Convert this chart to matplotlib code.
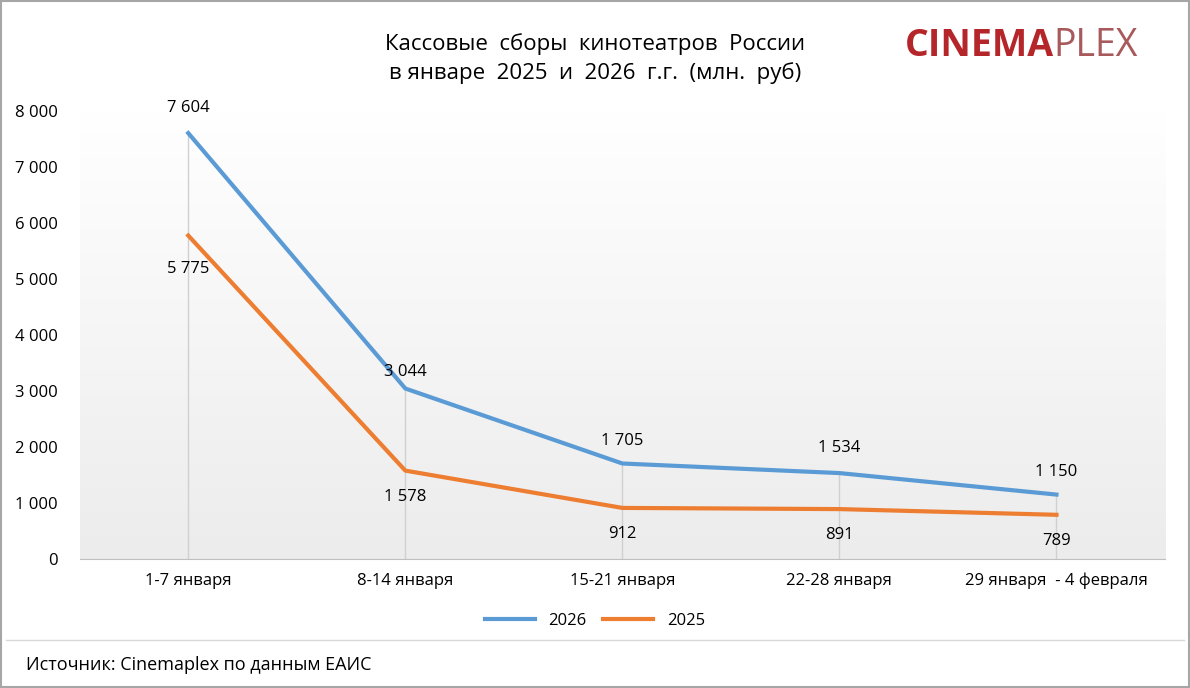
import matplotlib
matplotlib.use("Agg")
import matplotlib.pyplot as plt
import numpy as np
from matplotlib.patches import Rectangle
from matplotlib.lines import Line2D

categories = ["1-7 января", "8-14 января", "15-21 января", "22-28 января", "29 января  - 4 февраля"]
s2026 = [7604, 3044, 1705, 1534, 1150]
s2025 = [5775, 1578, 912, 891, 789]
yticks = [0, 1000, 2000, 3000, 4000, 5000, 6000, 7000, 8000]

def fmt(v):
    return f"{v:,}".replace(",", " ")

plt.rcParams['font.family'] = ['Open Sans', 'DejaVu Sans']
fig = plt.figure(figsize=(11.9, 6.88), dpi=100)
fig.patch.set_facecolor('white')
ax = fig.add_axes([0.067, 0.1875, 0.912, 0.6513])
x = np.arange(len(categories))
ax.set_xlim(-0.5, len(categories) - 0.5)
ax.set_ylim(0, 8000)

grad = np.linspace(0, 1, 256).reshape(-1, 1)
ax.imshow(grad, extent=(-0.5, len(categories) - 0.5, 0, 8000), aspect='auto',
          cmap=matplotlib.colors.LinearSegmentedColormap.from_list('g', ['#ececec', '#ffffff']),
          vmin=0, vmax=1, zorder=0, origin='lower')

for xi, v in zip(x, s2026):
    ax.plot([xi, xi], [0, v], color='#d0d0d0', lw=1, zorder=1)

c26 = '#5b9bd5'
c25 = '#ed7d31'
ax.plot(x, s2026, color=c26, lw=3, zorder=3)
ax.plot(x, s2025, color=c25, lw=3, zorder=3)

off26 = [450, 300, 400, 450, 400]
for xi, v, o in zip(x, s2026, off26):
    ax.text(xi, v + o, fmt(v), ha='center', va='center', fontsize=12, zorder=4)
off25 = [-600, -470, -470, -470, -470]
for xi, v, o in zip(x, s2025, off25):
    ax.text(xi, v + o, fmt(v), ha='center', va='center', fontsize=12, zorder=4)

ax.set_yticks(yticks)
ax.set_yticklabels([fmt(t) for t in yticks], fontsize=12)
ax.set_xticks(x)
ax.set_xticklabels(categories, fontsize=12)
ax.tick_params(axis='both', length=0, pad=10)
ax.tick_params(axis='y', pad=16)
for s in ['top', 'right', 'left']:
    ax.spines[s].set_visible(False)
ax.spines['bottom'].set_color('#bfbfbf')

fig.text(0.5, 0.915, "Кассовые  сборы  кинотеатров  России\nв январе  2025  и  2026  г.г.  (млн.  руб)",
         ha='center', va='center', fontsize=16, linespacing=1.4)
t1 = fig.text(0.76, 0.933, "CINEMA", color='#b5262b', fontsize=27, fontweight='bold', ha='left', va='center')
ax.annotate("PLEX", xy=(1, 0.5), xycoords=t1, va='center', ha='left', color='#a8595c', fontsize=27,
            annotation_clip=False)

handles = [Line2D([], [], color=c26, lw=3), Line2D([], [], color=c25, lw=3)]
fig.legend(handles, ['2026', '2025'], loc='center', bbox_to_anchor=(0.5, 0.098), ncol=2,
           frameon=False, fontsize=12, handlelength=3, columnspacing=1)

fig.add_artist(Line2D([0.005, 0.995], [0.07, 0.07], color='#d9d9d9', lw=1))
fig.text(0.022, 0.033, "Источник: Cinemaplex по данным ЕАИС", fontsize=13, va='center')
fig.add_artist(Rectangle((0.001, 0.001), 0.998, 0.998, fill=False, edgecolor='#a6a6a6', lw=1.5,
                         transform=fig.transFigure))
fig.savefig("out.png", dpi=100)
